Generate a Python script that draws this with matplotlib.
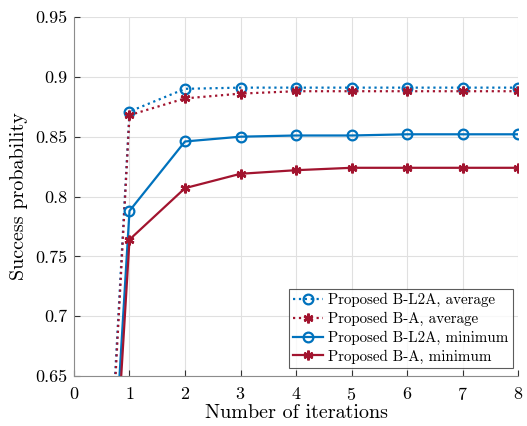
import numpy as np
import matplotlib
matplotlib.use("Agg")
import matplotlib.pyplot as plt

plt.rcParams['font.family'] = 'serif'
plt.rcParams['font.serif'] = ['cmr10']
plt.rcParams['mathtext.fontset'] = 'cm'
plt.rcParams['axes.formatter.use_mathtext'] = True

# data
iterations = [0, 1, 2, 3, 4, 5, 6, 7, 8]
bl2a_avg = [0.02, 0.871, 0.890, 0.891, 0.891, 0.891, 0.891, 0.891, 0.891]
ba_avg = [0.00, 0.868, 0.882, 0.886, 0.888, 0.888, 0.888, 0.888, 0.888]
bl2a_min = [0.02, 0.788, 0.846, 0.850, 0.851, 0.851, 0.852, 0.852, 0.852]
ba_min = [0.00, 0.764, 0.807, 0.819, 0.822, 0.824, 0.824, 0.824, 0.824]
labels = ["Proposed B-L2A, average", "Proposed B-A, average",
          "Proposed B-L2A, minimum", "Proposed B-A, minimum"]

blue = '#0072BD'
red = '#A2142F'
star = (6, 2, 0)

fig = plt.figure(figsize=(5.27, 4.26), dpi=100)
ax = fig.add_axes([0.1404, 0.1174, 0.8426, 0.8426])

ax.plot(iterations, bl2a_avg, ':', color=blue, lw=1.6, marker='o', ms=7,
        mfc='none', mew=1.6, label=labels[0])
ax.plot(iterations, ba_avg, ':', color=red, lw=1.6, marker=star, ms=7,
        mew=1.8, label=labels[1])
ax.plot(iterations, bl2a_min, '-', color=blue, lw=1.6, marker='o', ms=7,
        mfc='none', mew=1.6, label=labels[2])
ax.plot(iterations, ba_min, '-', color=red, lw=1.6, marker=star, ms=7,
        mew=1.8, label=labels[3])

ax.set_xlim(0, 8)
ax.set_ylim(0.65, 0.95)
ax.set_xticks(range(0, 9))
ax.set_yticks([0.65, 0.7, 0.75, 0.8, 0.85, 0.9, 0.95])
ax.set_yticklabels(['0.65', '0.7', '0.75', '0.8', '0.85', '0.9', '0.95'])
ax.grid(True, color='#e0e0e0', lw=0.8)
ax.set_axisbelow(True)
for s in ['top', 'right']:
    ax.spines[s].set_visible(False)
for s in ['left', 'bottom']:
    ax.spines[s].set_color('#8c8c8c')
ax.tick_params(direction='in', length=4, width=0.8, color='#333333',
               labelsize=13)
ax.tick_params(axis='x', pad=7)
ax.tick_params(axis='y', pad=5)
ax.set_xlabel('Number of iterations', fontsize=14.5, labelpad=1)
ax.set_ylabel('Success probability', fontsize=14.5, labelpad=5)

leg = ax.legend(loc='lower right', bbox_to_anchor=(0.988, 0.022), fontsize=10.8,
                frameon=True, fancybox=False, edgecolor='#333333',
                handlelength=2.0, handletextpad=0.3, borderpad=0.3,
                labelspacing=0.3, borderaxespad=0.0)
leg.get_frame().set_linewidth(0.8)

fig.savefig('out.png', dpi=100)
